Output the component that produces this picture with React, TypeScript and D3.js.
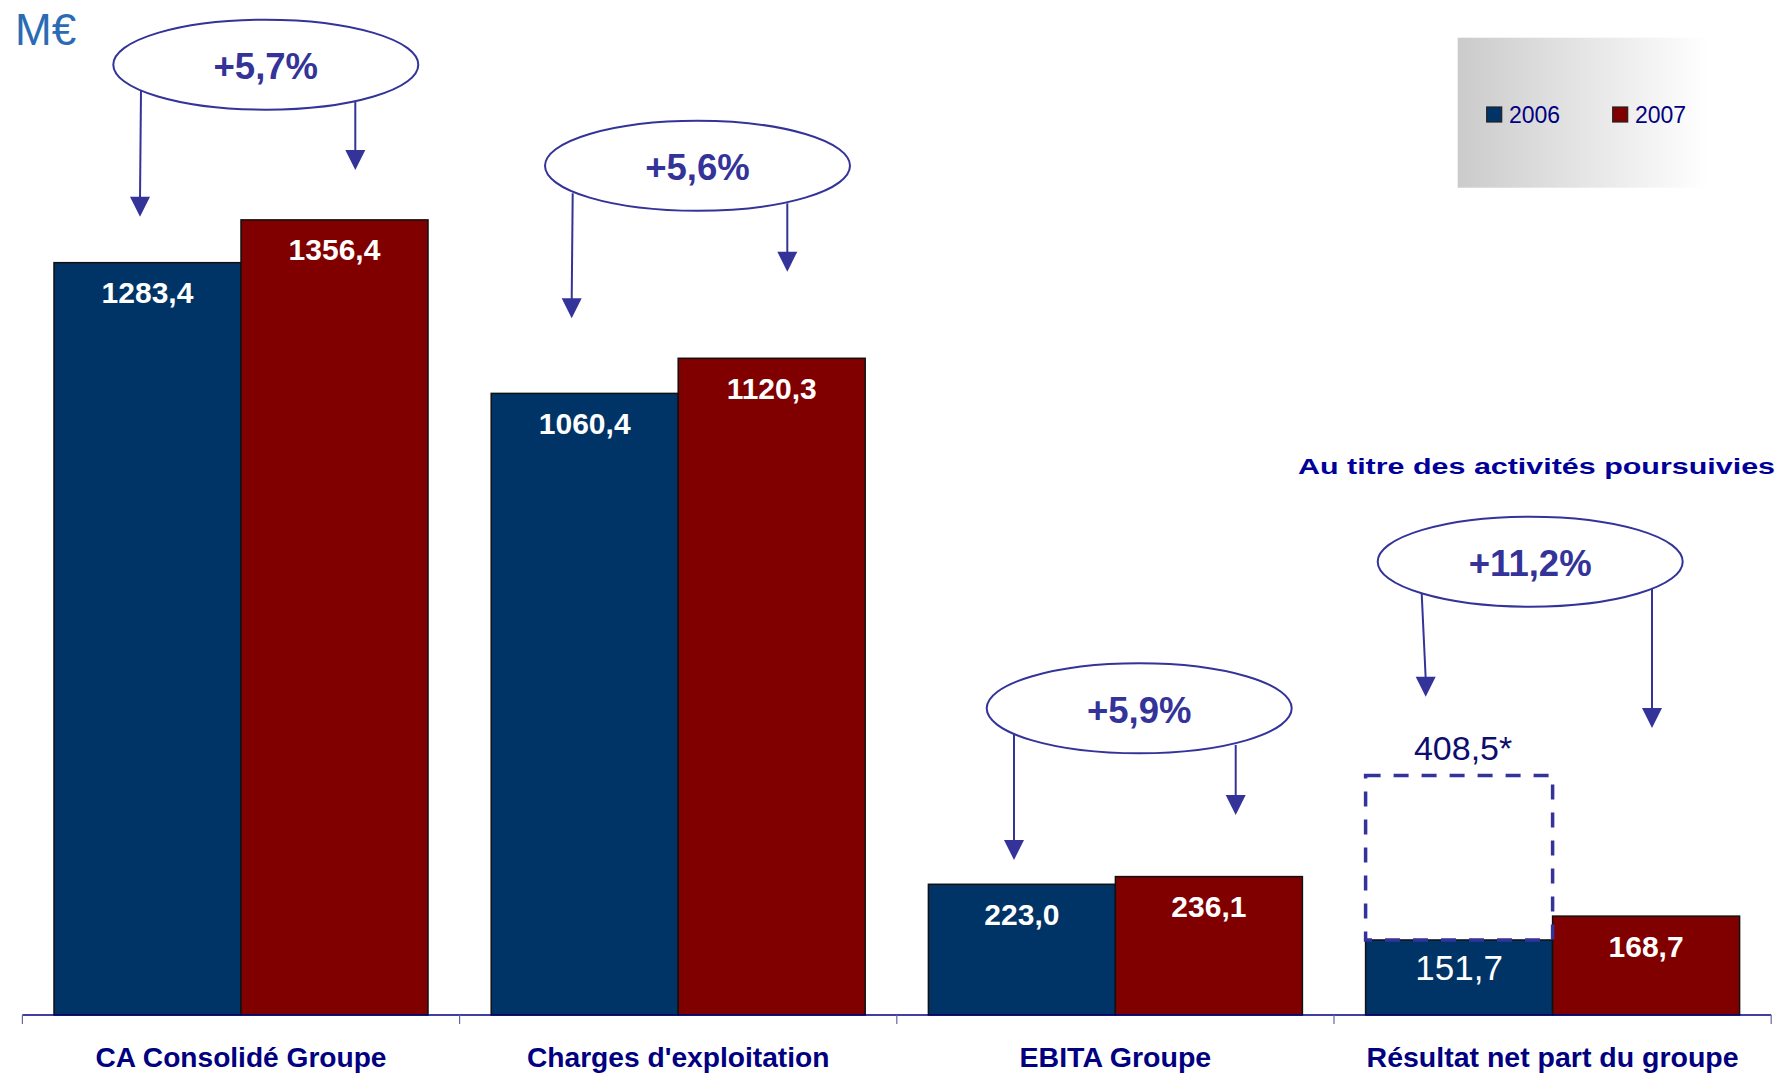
import React from "react";
import * as d3 from "d3";

// ---------- data ----------
const categories = [
  "CA Consolidé Groupe",
  "Charges d'exploitation",
  "EBITA Groupe",
  "Résultat net part du groupe",
];
const seriesNames = ["2006", "2007"];
// bar heights as drawn in the picture
const values2006 = [1283.4, 1060.4, 223.0, 128];
const values2007 = [1356.4, 1120.3, 236.1, 168.7];
const labels2006 = ["1283,4", "1060,4", "223,0", "151,7"];
const labels2007 = ["1356,4", "1120,3", "236,1", "168,7"];
const growthLabels = ["+5,7%", "+5,6%", "+5,9%", "+11,2%"];
const restatedValue = 408.5;
const restatedLabel = "408,5*";
const unitLabel = "M€";
const noteLabel = "Au titre des activités poursuivies";

// ---------- layout (annotation positions, px) ----------
const annotLayout = [
  { cy: 64.7, dx: 24.8, lx0: 141, lx1: 140, ly0: 90, ly1: 216.7, rx: 355.3, ry0: 101.7, ry1: 170 },
  { cy: 165.8, dx: 19.3, lx0: 572.7, lx1: 571.7, ly0: 193.3, ly1: 318.3, rx: 787.3, ry0: 203.3, ry1: 271.7 },
  { cy: 708.3, dx: 23.8, lx0: 1014, lx1: 1014, ly0: 735, ly1: 860, rx: 1235.7, ry0: 745, ry1: 815 },
  { cy: 561.7, dx: -22.4, lx0: 1421.7, lx1: 1425.7, ly0: 593.7, ly1: 696.8, rx: 1652, ry0: 588.8, ry1: 727.9 },
];
const catLabelWidths = [291, 302.5, 191.7, 372];
const bold2006 = [true, true, true, false];

const W = 1780;
const H = 1074;
const FONT = "'Liberation Sans', Arial, Helvetica, sans-serif";
const BLUE = "#003366";
const RED = "#800000";
const ANN = "#333399";
const NAVY = "#000080";

const baseY = 1015;
const y = d3.scaleLinear().domain([0, 1600]).range([baseY, baseY - 1600 * 0.5862]);
const x0 = d3.scaleBand<string>().domain(categories).range([22.4, 1771.2]).padding(0);
const step = x0.step();
const x1 = d3.scaleBand<string>().domain(seriesNames).range([31.6, step - 31.6]).padding(0);
const bw = x1.bandwidth();

function Arrow({ x0a, x1a, y0, y1 }: { x0a: number; x1a: number; y0: number; y1: number }) {
  const head = 20;
  const half = 10;
  const path = d3.path();
  path.moveTo(x1a - half, y1 - head);
  path.lineTo(x1a + half, y1 - head);
  path.lineTo(x1a, y1);
  path.closePath();
  return (
    <g>
      <line x1={x0a} y1={y0} x2={x1a} y2={y1 - head + 2} stroke={ANN} strokeWidth={2} />
      <path d={path.toString()} fill={ANN} />
    </g>
  );
}

export default function App() {
  const bars = categories.flatMap((c, i) => [
    { c, s: "2006", v: values2006[i], label: labels2006[i], color: BLUE, bold: bold2006[i], i },
    { c, s: "2007", v: values2007[i], label: labels2007[i], color: RED, bold: true, i },
  ]);
  const tickXs = [...categories.map((c) => x0(c) as number), (x0(categories[3]) as number) + step];
  const lastX = (x0(categories[3]) as number) + (x1("2006") as number);

  return (
    <svg
      width={W}
      height={H}
      style={{ position: "absolute", left: 0, top: 0, display: "block", background: "#fff" }}
      fontFamily={FONT}
    >
      <defs>
        <linearGradient id="legGrad" x1="0" x2="1" y1="0" y2="0">
          <stop offset="0" stopColor="#cbcbcb" />
          <stop offset="1" stopColor="#ffffff" />
        </linearGradient>
      </defs>

      {/* unit */}
      <text x={15} y={45} fontSize={44} fill="#2a6cb4">
        {unitLabel}
      </text>

      {/* legend */}
      <rect x={1457.7} y={37.7} width={250} height={150} fill="url(#legGrad)" />
      {seriesNames.map((s, k) => {
        const lx = k === 0 ? 1486.7 : 1612.7;
        return (
          <g key={s}>
            <rect x={lx} y={107} width={15} height={15} fill={k === 0 ? BLUE : RED} stroke="#222" strokeWidth={1.2} />
            <text x={lx + 22.3} y={122.7} fontSize={23} fill={NAVY}>
              {s}
            </text>
          </g>
        );
      })}

      {/* bars */}
      {bars.map((b) => (
        <rect
          key={b.c + b.s}
          x={(x0(b.c) as number) + (x1(b.s) as number)}
          y={y(b.v)}
          width={bw}
          height={baseY - y(b.v)}
          fill={b.color}
          stroke="#111"
          strokeWidth={1.5}
        />
      ))}

      {/* restated dashed box */}
      <rect
        x={lastX}
        y={y(restatedValue)}
        width={bw}
        height={y(values2006[3]) - y(restatedValue)}
        fill="none"
        stroke={ANN}
        strokeWidth={3.5}
        strokeDasharray="15 13"
      />
      <text x={lastX + bw / 2 + 4} y={y(restatedValue) - 16} fontSize={34} fill="#0d0d70" textAnchor="middle">
        {restatedLabel}
      </text>

      {/* value labels */}
      {bars.map((b) => (
        <text
          key={"l" + b.c + b.s}
          x={(x0(b.c) as number) + (x1(b.s) as number) + bw / 2}
          y={y(b.v) + 40.5}
          fontSize={b.bold ? 30 : 35}
          fontWeight={b.bold ? "bold" : "normal"}
          fill="#fff"
          textAnchor="middle"
        >
          {b.label}
        </text>
      ))}

      {/* axis */}
      <line x1={22.4} x2={1771.2} y1={baseY} y2={baseY} stroke={NAVY} strokeWidth={1.5} />
      {tickXs.map((tx, k) => (
        <line key={k} x1={tx} x2={tx} y1={baseY} y2={baseY + 9} stroke="#6666aa" strokeWidth={1.2} />
      ))}
      {categories.map((c, i) => (
        <text
          key={c}
          x={(x0(c) as number) + step / 2}
          y={1067}
          fontSize={28}
          fontWeight="bold"
          fill={NAVY}
          textAnchor="middle"
          textLength={catLabelWidths[i]}
          lengthAdjust="spacingAndGlyphs"
        >
          {c}
        </text>
      ))}

      {/* note */}
      <text
        x={1298}
        y={474.3}
        fontSize={22.5}
        fontWeight="bold"
        fill="#000099"
        textLength={477}
        lengthAdjust="spacingAndGlyphs"
      >
        {noteLabel}
      </text>

      {/* growth annotations */}
      {annotLayout.map((a, i) => {
        const cx = (x0(categories[i]) as number) + step / 2 + a.dx;
        return (
          <g key={"a" + i}>
            <Arrow x0a={a.lx0} x1a={a.lx1} y0={a.ly0} y1={a.ly1} />
            <Arrow x0a={a.rx} x1a={a.rx} y0={a.ry0} y1={a.ry1} />
            <ellipse cx={cx} cy={a.cy} rx={152.5} ry={45} fill="#fff" stroke={ANN} strokeWidth={2} />
            <text x={cx} y={a.cy + 14.5} fontSize={36.5} fontWeight="bold" fill={ANN} textAnchor="middle">
              {growthLabels[i]}
            </text>
          </g>
        );
      })}
    </svg>
  );
}
